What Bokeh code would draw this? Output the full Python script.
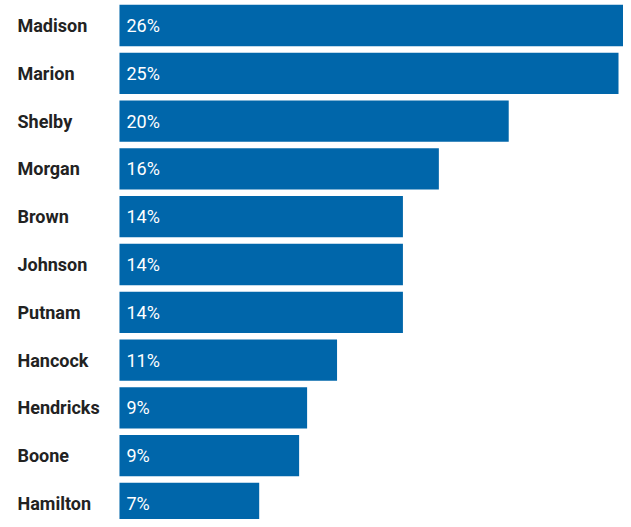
from bokeh.plotting import figure
from bokeh.models import ColumnDataSource, Range1d
from bokeh.core.properties import value
from bokeh.embed import file_html
from bokeh.resources import INLINE

counties = ["Madison", "Marion", "Shelby", "Morgan", "Brown", "Johnson",
            "Putnam", "Hancock", "Hendricks", "Boone", "Hamilton"]
shares = [26.0, 25.0, 19.5, 16.0, 14.2, 14.2, 14.2, 10.9, 9.4, 9.0, 7.0]
share_labels = ["26%", "25%", "20%", "16%", "14%", "14%", "14%", "11%", "9%", "9%", "7%"]

pos = list(range(len(counties)))
src = ColumnDataSource(dict(pos=pos, county=counties, share=shares, label=share_labels))

W, H = 623, 519
p = figure(width=W, height=H, output_backend="svg", toolbar_location=None,
           x_range=Range1d(-5.96, 25.25), y_range=Range1d(10.335, -0.523),
           min_border=0, min_border_left=0, min_border_right=0,
           min_border_top=0, min_border_bottom=0)
p.axis.visible = False
p.grid.visible = False
p.outline_line_color = None
p.background_fill_color = "white"
p.border_fill_color = "white"

p.hbar(y="pos", left=0, right="share", height=0.864, source=src,
       fill_color="#0066AA", line_color=None)

p.text(x=0, y="pos", text="label", source=src, x_offset=7,
       text_font=value("Roboto"), text_font_size="18px", text_color="white",
       text_align="left", text_baseline="middle")

p.text(x=0, y="pos", text="county", source=src, x_offset=-102,
       text_font=value("Roboto"), text_font_size="18px", text_font_style="bold",
       text_color="#222222", text_align="left", text_baseline="middle")

open("out.html", "w").write(file_html(p, INLINE))
